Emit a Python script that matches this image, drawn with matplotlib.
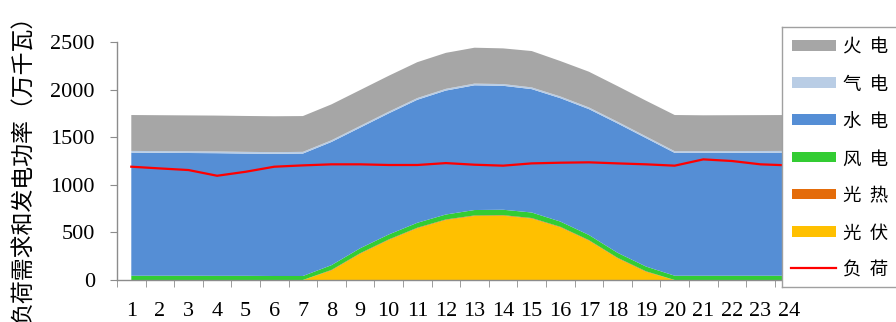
import matplotlib
matplotlib.use("Agg")
import matplotlib.pyplot as plt
from matplotlib.patches import Rectangle
import numpy as np

# 24小时出力与负荷（万千瓦）
hours = list(range(1, 25))
solar = [0, 0, 0, 0, 0, 0, 0, 100, 275, 420, 543, 630,
         672, 675, 645, 553, 413, 228, 85, 0, 0, 0, 0, 0]
csp = [0, 0, 0, 0, 0, 0, 0, 6, 6, 6, 6, 6,
       6, 6, 6, 6, 6, 6, 6, 0, 0, 0, 0, 0]
wind = [45, 45, 45, 44, 44, 42, 42, 50, 52, 52, 52, 52,
        57, 57, 58, 55, 54, 52, 50, 45, 45, 45, 45, 45]
hydro = [1293, 1291, 1289, 1288, 1284, 1283, 1286, 1294, 1267, 1272, 1292, 1302,
         1310, 1302, 1296, 1296, 1322, 1359, 1349, 1290, 1290, 1291, 1292, 1293]
gas = [18] * 24
thermal = [377, 377, 377, 377, 377, 377, 376, 377, 377, 377, 377, 378,
           377, 375, 382, 372, 375, 374, 375, 380, 377, 377, 377, 377]
load = [1190, 1172, 1155, 1095, 1137, 1190, 1204, 1215, 1215, 1208, 1208, 1228,
        1211, 1201, 1225, 1232, 1236, 1225, 1215, 1201, 1267, 1250, 1215, 1204]

names = ["光伏", "光热", "风电", "水电", "气电", "火电"]
colors = ["#FFC000", "#E46C0A", "#33CC33", "#558ED5", "#B9CDE5", "#A6A6A6"]
load_name = "负荷"
load_color = "#FF0000"

serif = "Liberation Serif"
cjk = ["Noto Sans CJK SC", "DejaVu Sans"]

W, H = 896, 322
fig = plt.figure(figsize=(W / 100, H / 100), dpi=100)
ax = fig.add_axes([117 / W, 42 / H, 686.4 / W, 238 / H])

ax.stackplot(hours, solar, csp, wind, hydro, gas, thermal,
             colors=colors, linewidth=0)
ax.plot(hours, load, color=load_color, lw=1.6, zorder=3)

ax.set_xlim(0.5, 24.5)
ax.set_ylim(0, 2500)
ax.set_yticks(range(0, 2501, 500))
ax.set_xticks(hours)
ax.set_xticklabels([str(h) for h in hours])
ax.set_xticks(np.arange(0.5, 25, 1), minor=True)

for side in ("top", "right"):
    ax.spines[side].set_visible(False)
for side in ("left", "bottom"):
    ax.spines[side].set_color("#8C8C8C")
    ax.spines[side].set_linewidth(1.0)

ax.tick_params(axis="x", which="major", length=0, pad=16)
ax.tick_params(axis="x", which="minor", length=5, color="#8C8C8C", direction="out")
ax.tick_params(axis="y", length=5, color="#8C8C8C", direction="out", pad=11)
for lab in ax.get_xticklabels() + ax.get_yticklabels():
    lab.set_fontfamily(serif)
    lab.set_fontsize(16)

ax.set_ylabel("负荷需求和发电功率（万千瓦）", family=cjk, fontsize=16.5, va="center")
ax.yaxis.set_label_coords((23 - 117) / 686.4, 0.49)

# 图例框：用像素坐标（y 向下）画在右侧，框右边超出画布
top, bottom, left = 26.7, 286.7, 782
lax = fig.add_axes([left / W, (H - bottom) / H, (W + 6 - left) / W, (bottom - top) / H])
lax.set_xlim(left, W + 6)
lax.set_ylim(bottom, top)
lax.set_xticks([])
lax.set_yticks([])
lax.set_facecolor("white")
for sp in lax.spines.values():
    sp.set_color("#A0A0A0")
    sp.set_linewidth(1.0)

entries = list(zip(names[::-1], colors[::-1])) + [(load_name, load_color)]
row0, pitch = 45.3, 37.2
for i, (name, color) in enumerate(entries):
    yc = row0 + i * pitch
    if name == load_name:
        lax.plot([791, 836], [yc - 0.5, yc - 0.5], color=color, lw=1.6)
    else:
        lax.add_patch(Rectangle((791.5, yc - 5.3), 44.5, 10.6,
                                facecolor=color, edgecolor="none"))
    lax.text(843, yc + 2.5, "  ".join(name), family=cjk, fontsize=13.3,
             ha="left", va="center")

fig.savefig("out.png", dpi=100)
plt.close(fig)
